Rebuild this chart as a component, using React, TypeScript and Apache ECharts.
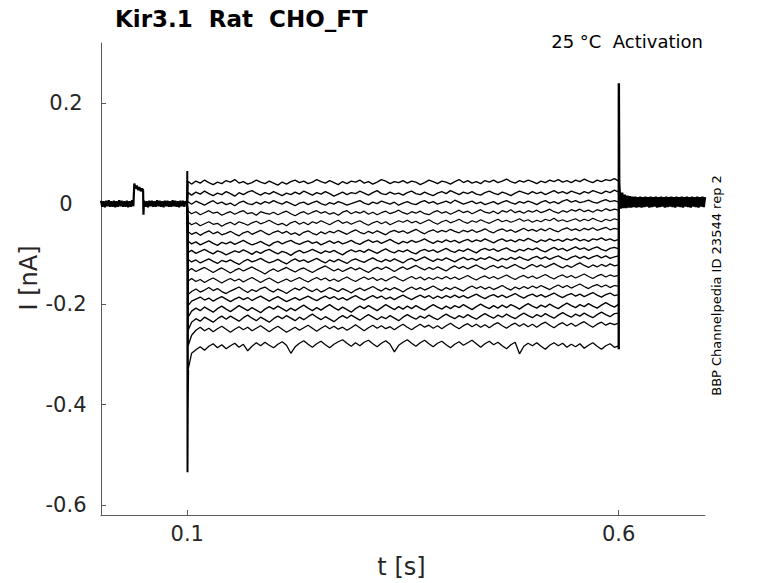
import React, { useEffect, useRef } from "react";
import * as echarts from "echarts";

// time grid of the voltage step (ms)
const tPulseMs = [
  101, 105, 110, 115, 120, 125, 130, 135, 140, 145,
  150, 155, 160, 165, 170, 175, 180, 185, 190, 195,
  200, 205, 210, 215, 220, 225, 230, 235, 240, 245,
  250, 255, 260, 265, 270, 275, 280, 285, 290, 295,
  300, 305, 310, 315, 320, 325, 330, 335, 340, 345,
  350, 355, 360, 365, 370, 375, 380, 385, 390, 395,
  400, 405, 410, 415, 420, 425, 430, 435, 440, 445,
  450, 455, 460, 465, 470, 475, 480, 485, 490, 495,
  500, 505, 510, 515, 520, 525, 530, 535, 540, 545,
  550, 555, 560, 565, 570, 575, 580, 585, 590, 595,
  600,
];

// currents in pA, one array per voltage step
const trace01 = [
  44, 39, 45, 41, 47, 42, 38, 43, 40, 46,
  43, 48, 41, 44, 39, 42, 47, 43, 40, 45,
  41, 37, 43, 39, 44, 47, 42, 45, 40, 43,
  48, 44, 41, 46, 42, 38, 44, 40, 45, 43,
  47, 41, 44, 39, 43, 48, 45, 40, 44, 42,
  46, 41, 45, 43, 38, 42, 47, 44, 40, 45,
  43, 39, 44, 48, 42, 46, 41, 44, 40, 46,
  43, 47, 42, 45, 49, 44, 41, 46, 43, 47,
  44, 40, 45, 42, 47, 44, 48, 43, 46, 42,
  47, 44, 49, 45, 42, 47, 44, 48, 46, 50, 45,
];
const trace02 = [
  22, 17, 23, 19, 25, 20, 16, 21, 18, 24,
  20, 15, 22, 18, 23, 26, 21, 17, 22, 19,
  24, 20, 16, 21, 18, 23, 19, 25, 21, 17,
  22, 19, 24, 20, 15, 19, 23, 18, 22, 20,
  25, 21, 17, 22, 26, 20, 18, 23, 19, 21,
  17, 22, 25, 20, 18, 23, 19, 16, 21, 24,
  20, 26, 22, 18, 23, 20, 24, 19, 17, 22,
  25, 21, 18, 23, 20, 16, 21, 25, 22, 19,
  24, 20, 23, 18, 22, 26, 21, 24, 20, 25,
  22, 19, 24, 21, 26, 23, 20, 25, 22, 27, 23,
];
const trace03 = [
  4, -1, 5, 1, -3, 2, 6, 0, 3, -2,
  1, -4, 2, 5, 0, -2, 3, -1, 4, 1,
  6, 2, -1, 4, 0, -4, 1, 3, -2, 2,
  5, 0, -3, 2, -1, 4, 1, -3, 0, 3,
  6, 1, -2, 3, 0, 5, 2, -1, 3, -3,
  1, 4, 0, -2, 3, 6, 1, 4, -1, 2,
  5, 1, 7, 3, -1, 2, 5, 0, 3, -2,
  1, 4, -1, 3, 6, 2, -1, 4, 1, 5,
  2, -2, 3, 6, 1, 4, 0, 5, 8, 3,
  6, 2, 4, 7, 3, 1, 5, 8, 4, 6, 3,
];
const trace04 = [
  -15, -20, -16, -22, -18, -14, -19, -17, -23, -19,
  -16, -21, -17, -14, -20, -18, -23, -16, -19, -21,
  -17, -22, -18, -15, -20, -24, -19, -16, -21, -17,
  -14, -19, -16, -21, -18, -23, -17, -14, -20, -16,
  -19, -15, -21, -17, -22, -18, -15, -20, -17, -13,
  -18, -21, -16, -19, -15, -20, -22, -17, -14, -19,
  -16, -21, -17, -13, -18, -15, -20, -16, -12, -17,
  -19, -15, -20, -14, -17, -12, -18, -15, -19, -14,
  -17, -13, -18, -15, -11, -16, -19, -14, -17, -12,
  -15, -11, -16, -13, -17, -12, -15, -10, -14, -11, -13,
];
const trace05 = [
  -37, -42, -38, -44, -40, -36, -41, -39, -45, -40,
  -37, -42, -36, -39, -43, -38, -35, -40, -37, -33,
  -38, -42, -39, -44, -38, -35, -41, -37, -42, -36,
  -39, -34, -38, -42, -37, -33, -39, -36, -41, -37,
  -34, -39, -43, -38, -35, -40, -36, -42, -38, -34,
  -37, -33, -38, -35, -40, -36, -32, -37, -41, -36,
  -33, -38, -35, -31, -36, -39, -34, -37, -32, -36,
  -39, -35, -31, -36, -33, -37, -34, -30, -35, -32,
  -37, -33, -36, -31, -34, -29, -35, -32, -36, -33,
  -30, -35, -31, -34, -29, -33, -36, -31, -34, -30, -33,
];
const trace06 = [
  -56, -61, -57, -63, -58, -54, -60, -56, -62, -59,
  -55, -60, -64, -58, -55, -61, -57, -53, -58, -62,
  -57, -54, -59, -55, -61, -58, -63, -57, -54, -59,
  -62, -56, -60, -55, -58, -53, -57, -61, -56, -52,
  -57, -60, -55, -59, -54, -58, -62, -56, -53, -57,
  -54, -59, -55, -51, -56, -60, -55, -52, -57, -53,
  -56, -51, -55, -58, -53, -56, -52, -57, -54, -50,
  -55, -58, -53, -50, -55, -52, -57, -53, -49, -54,
  -51, -55, -50, -54, -49, -53, -56, -51, -48, -53,
  -50, -54, -49, -52, -48, -53, -50, -47, -52, -49, -51,
];
const trace07 = [
  -75, -80, -76, -82, -78, -74, -79, -83, -77, -80,
  -76, -81, -77, -73, -78, -82, -79, -75, -80, -84,
  -78, -75, -80, -76, -73, -78, -81, -77, -74, -79,
  -76, -82, -78, -74, -79, -75, -80, -77, -73, -78,
  -81, -76, -72, -77, -74, -79, -75, -71, -76, -80,
  -75, -78, -73, -77, -74, -70, -75, -79, -74, -77,
  -72, -76, -73, -78, -74, -71, -76, -72, -75, -70,
  -74, -78, -73, -70, -75, -72, -76, -71, -74, -69,
  -73, -77, -72, -75, -70, -74, -71, -75, -70, -73,
  -69, -74, -71, -75, -70, -72, -68, -73, -70, -74, -71,
];
const trace08 = [
  -97, -93, -99, -95, -91, -96, -100, -94, -97, -102,
  -98, -94, -97, -92, -96, -101, -95, -99, -94, -91,
  -96, -100, -95, -98, -103, -97, -93, -98, -95, -91,
  -95, -99, -94, -97, -93, -98, -102, -96, -92, -96,
  -93, -97, -91, -95, -99, -94, -90, -95, -98, -93,
  -96, -92, -97, -100, -94, -91, -95, -92, -97, -93,
  -89, -94, -97, -92, -95, -90, -94, -98, -92, -89,
  -93, -90, -95, -91, -88, -93, -96, -91, -94, -89,
  -92, -88, -93, -96, -91, -87, -92, -89, -94, -90,
  -86, -91, -88, -93, -89, -86, -91, -94, -89, -87, -90,
];
const trace09 = [
  -111, -116, -112, -118, -114, -110, -115, -119, -113, -116,
  -112, -117, -121, -115, -111, -116, -113, -109, -114, -118,
  -115, -111, -116, -120, -114, -110, -115, -112, -117, -113,
  -109, -114, -118, -112, -116, -111, -115, -119, -113, -110,
  -114, -117, -112, -108, -113, -116, -111, -115, -110, -114,
  -118, -112, -109, -114, -110, -106, -111, -115, -110, -113,
  -108, -112, -116, -111, -107, -112, -109, -113, -108, -111,
  -106, -110, -114, -109, -112, -107, -111, -106, -110, -113,
  -108, -105, -110, -106, -111, -107, -104, -109, -112, -107,
  -104, -109, -105, -110, -106, -103, -108, -104, -109, -106, -104,
];
const trace10 = [
  -134, -129, -135, -131, -127, -132, -137, -132, -128, -133,
  -138, -133, -129, -134, -130, -126, -131, -135, -140, -134,
  -130, -135, -131, -127, -132, -136, -131, -128, -133, -137,
  -132, -128, -124, -129, -134, -130, -135, -131, -127, -132,
  -128, -133, -137, -131, -127, -131, -126, -130, -135, -130,
  -126, -131, -127, -123, -128, -132, -127, -131, -126, -130,
  -134, -128, -124, -129, -125, -130, -126, -122, -127, -131,
  -126, -123, -128, -124, -129, -125, -121, -126, -130, -125,
  -121, -126, -122, -127, -123, -119, -124, -128, -123, -127,
  -122, -118, -123, -127, -122, -126, -121, -125, -120, -124, -122,
];
const trace11 = [
  -154, -149, -155, -151, -157, -152, -148, -153, -158, -153,
  -149, -154, -150, -156, -151, -147, -152, -157, -152, -148,
  -153, -158, -154, -150, -155, -151, -147, -152, -156, -151,
  -147, -152, -148, -154, -150, -155, -150, -146, -151, -155,
  -150, -146, -151, -147, -153, -149, -154, -149, -145, -150,
  -154, -149, -145, -150, -146, -152, -147, -151, -146, -150,
  -145, -150, -146, -151, -147, -143, -148, -152, -147, -144,
  -149, -145, -150, -146, -142, -147, -151, -146, -143, -148,
  -144, -149, -145, -141, -146, -150, -145, -142, -147, -143,
  -148, -144, -140, -145, -149, -144, -141, -146, -142, -145, -143,
];
const trace12 = [
  -181, -175, -170, -176, -172, -167, -173, -169, -175, -179,
  -174, -170, -166, -172, -177, -171, -175, -169, -166, -172,
  -176, -170, -174, -179, -173, -168, -172, -166, -171, -175,
  -170, -176, -172, -167, -171, -175, -169, -173, -178, -172,
  -168, -173, -169, -165, -170, -174, -168, -172, -167, -171,
  -176, -170, -166, -171, -167, -172, -168, -164, -169, -173,
  -167, -171, -166, -170, -174, -168, -164, -169, -165, -170,
  -166, -171, -167, -163, -168, -172, -166, -170, -165, -169,
  -164, -168, -163, -167, -171, -166, -162, -167, -163, -168,
  -164, -160, -165, -169, -164, -161, -166, -162, -167, -163, -164,
];
const trace13 = [
  -203, -194, -190, -186, -192, -188, -194, -189, -185, -190,
  -195, -190, -186, -191, -187, -193, -188, -184, -189, -194,
  -189, -185, -190, -195, -191, -187, -192, -188, -184, -189,
  -193, -188, -184, -189, -185, -191, -187, -192, -187, -183,
  -188, -192, -187, -183, -188, -184, -190, -186, -191, -186,
  -182, -187, -191, -186, -182, -187, -183, -189, -184, -188,
  -183, -187, -182, -187, -183, -188, -184, -180, -185, -189,
  -184, -181, -186, -182, -187, -183, -179, -184, -188, -183,
  -180, -185, -181, -186, -182, -178, -183, -187, -182, -179,
  -184, -180, -185, -181, -177, -182, -186, -181, -178, -183, -181,
];
const trace14 = [
  -226, -214, -208, -213, -206, -211, -216, -209, -204, -210,
  -215, -209, -203, -208, -213, -207, -212, -217, -210, -205,
  -210, -204, -209, -214, -208, -213, -207, -202, -208, -213,
  -207, -212, -206, -201, -207, -212, -206, -211, -216, -209,
  -204, -209, -203, -208, -213, -207, -201, -206, -211, -205,
  -210, -204, -209, -203, -208, -212, -206, -201, -206, -210,
  -204, -209, -203, -207, -201, -206, -211, -205, -200, -205,
  -209, -203, -208, -202, -207, -201, -205, -210, -204, -199,
  -204, -208, -202, -206, -200, -205, -209, -203, -198, -203,
  -207, -201, -205, -199, -204, -208, -202, -197, -202, -206, -200,
];
const trace15 = [
  -252, -236, -229, -234, -226, -231, -236, -229, -224, -230,
  -224, -229, -234, -227, -222, -228, -233, -226, -231, -236,
  -229, -224, -229, -223, -228, -233, -226, -231, -225, -220,
  -226, -231, -225, -230, -235, -228, -223, -228, -222, -227,
  -232, -226, -221, -226, -231, -225, -229, -223, -228, -233,
  -226, -221, -226, -230, -224, -228, -222, -227, -231, -225,
  -220, -225, -229, -223, -227, -221, -226, -230, -224, -219,
  -224, -228, -222, -226, -220, -225, -229, -223, -218, -223,
  -227, -221, -225, -219, -224, -228, -222, -217, -222, -226,
  -220, -224, -218, -223, -227, -221, -216, -221, -225, -219, -218,
];
const trace16 = [
  -283, -262, -252, -246, -253, -248, -255, -249, -244, -250,
  -256, -250, -245, -251, -246, -253, -248, -243, -249, -255,
  -249, -244, -250, -256, -251, -246, -252, -247, -242, -248,
  -254, -248, -243, -249, -244, -250, -246, -252, -247, -241,
  -247, -253, -247, -242, -248, -243, -249, -245, -251, -245,
  -240, -246, -251, -245, -240, -246, -242, -248, -243, -249,
  -243, -238, -244, -249, -243, -239, -245, -240, -246, -241,
  -247, -241, -237, -243, -248, -242, -238, -244, -239, -245,
  -240, -246, -240, -236, -242, -247, -241, -237, -243, -238,
  -244, -239, -235, -241, -246, -240, -236, -242, -238, -241, -238,
];
const trace17 = [
  -330, -298, -291, -285, -292, -284, -279, -287, -281, -289,
  -283, -278, -286, -280, -293, -284, -277, -283, -276, -282,
  -287, -280, -275, -282, -298, -285, -278, -273, -280, -286,
  -279, -274, -281, -287, -280, -275, -271, -278, -284, -277,
  -283, -276, -272, -279, -285, -278, -273, -280, -295, -282,
  -276, -271, -278, -284, -277, -272, -279, -285, -278, -274,
  -281, -287, -280, -275, -282, -277, -272, -279, -286, -279,
  -274, -281, -276, -283, -289, -281, -276, -299, -284, -278,
  -283, -277, -284, -290, -282, -277, -283, -278, -286, -280,
  -285, -279, -288, -282, -277, -284, -290, -283, -279, -286, -283,
];

// holding segment before the step (ms, pA)
const preT = [
  0, 1.5, 3, 4.5, 6, 7.5, 9, 10.5, 12, 13.5, 15, 16.5, 18, 19.5, 21, 22.5, 24, 25.5, 27, 28.5,
  30, 31.5, 33, 34.5, 36, 37.5, 38.6, 40, 41.5, 43, 44.5, 46, 47.5, 48.8, 49.2, 49.6, 50,
  51.5, 53, 54.5, 56, 57.5, 59, 60.5, 62, 63.5, 65, 66.5, 68, 69.5, 71, 72.5, 74, 75.5, 77, 78.5,
  80, 81.5, 83, 84.5, 86, 87.5, 89, 90.5, 92, 93.5, 95, 96.5, 98, 99.6,
];
const preI = [
  6, -6, 5, -7, 6, -5, 7, -6, 5, -6, 6, -7, 5, -6, 7, -5, 6, -6, 5, -6,
  6, -7, 5, -6, 7, -5, 40, 30, 36, 27, 33, 25, 30, 27, -22, -4, 6,
  -6, 5, -7, 6, -5, 6, -6, 5, -6, 7, -5, 6, -6, 5, -7, 6, -5, 6, -6,
  5, -6, 7, -5, 6, -6, 5, -7, 6, -5, 6, -6, 5, 0,
];

// capacitive transient at step onset (ms, pA)
const onsetT = [99.6, 100, 100.25, 100.5, 100.8, 101];
const onsetI = [0, 65, -535, -420, -360, -330];

// tail transient and return to holding (ms, pA)
const tailT = [
  600, 600.15, 600.6,
  601, 602.5, 604, 605.5, 607, 608.5, 610, 611.5, 613, 614.5, 616, 617.5, 619, 620.5, 622, 623.5,
  625, 626.5, 628, 629.5, 631, 632.5, 634, 635.5, 637, 638.5, 640, 641.5, 643, 644.5, 646, 647.5,
  649, 650.5, 652, 653.5, 655, 656.5, 658, 659.5, 661, 662.5, 664, 665.5, 667, 668.5, 670, 671.5,
  673, 674.5, 676, 677.5, 679, 680.5, 682, 683.5, 685, 686.5, 688, 689.5, 691, 692.5, 694, 695.5,
  697, 698.5, 700,
];
const tailI = [
  -290, 240, 40,
  28, -10, 22, -9, 18, -9, 16, -8, 15, -8, 14, -7, 14, -8, 13, -7, 14,
  -8, 13, -7, 14, -6, 13, -8, 14, -7, 13, -6, 14, -8, 13, -7, 14,
  -6, 13, -8, 14, -7, 13, -6, 14, -7, 13, -8, 14, -6, 13, -7, 14,
  -8, 13, -6, 14, -7, 13, -8, 14, -6, 13, -7, 14, -8, 13, -6, 14,
  -7, 13, 3,
];

const traces = [
  trace01, trace02, trace03, trace04, trace05, trace06, trace07, trace08, trace09,
  trace10, trace11, trace12, trace13, trace14, trace15, trace16, trace17,
];

const xTicks = [0.1, 0.6];
const yTicks = [-0.6, -0.4, -0.2, 0, 0.2];

const FONT = "DejaVu Sans";
const AXIS = "#5a5a5a";
const TXT = "#262626";

function pts(ts: number[], vs: number[]) {
  const n = Math.min(ts.length, vs.length);
  const out: number[][] = [];
  for (let i = 0; i < n; i++) out.push([ts[i] / 1000, vs[i] / 1000]);
  return out;
}

export default function App() {
  const ref = useRef<HTMLDivElement>(null);
  useEffect(() => {
    if (!ref.current) return;
    const chart = echarts.init(ref.current, null, { renderer: "svg" });
    const base = {
      type: "line",
      symbol: "none",
      silent: true,
      animation: false,
      color: "#000",
    };
    const series: any[] = [];
    series.push({ ...base, data: pts(preT, preI), lineStyle: { color: "#000", width: 2.2 } });
    traces.forEach((tr) => {
      series.push({
        ...base,
        data: [[0.1, 0], ...pts(tPulseMs, tr)],
        lineStyle: { color: "#000", width: 1.3 },
      });
    });
    series.push({ ...base, data: pts(onsetT, onsetI), lineStyle: { color: "#000", width: 2 } });
    series.push({ ...base, data: pts(tailT, tailI), lineStyle: { color: "#000", width: 2.4 } });

    chart.setOption({
      animation: false,
      grid: { left: 101, right: 73, top: 43, bottom: 68, containLabel: false },
      xAxis: {
        type: "value",
        min: 0,
        max: 0.7,
        axisLine: { show: true, onZero: false, lineStyle: { color: AXIS, width: 1 } },
        axisTick: { show: true, inside: true, length: 5, customValues: xTicks, lineStyle: { color: AXIS } },
        axisLabel: {
          customValues: xTicks,
          fontSize: 21,
          fontFamily: FONT,
          color: TXT,
          margin: 8,
          formatter: (v: number) => String(v),
        },
        splitLine: { show: false },
      },
      yAxis: {
        type: "value",
        min: -0.62,
        max: 0.32,
        axisLine: { show: true, lineStyle: { color: AXIS, width: 1 } },
        axisTick: { show: true, inside: true, length: 5, customValues: yTicks, lineStyle: { color: AXIS } },
        axisLabel: {
          customValues: yTicks,
          fontSize: 21,
          fontFamily: FONT,
          color: TXT,
          margin: 35,
          align: "center",
          formatter: (v: number) => (Math.abs(v) < 1e-9 ? "0" : String(v)),
        },
        splitLine: { show: false },
      },
      graphic: [
        {
          type: "text",
          x: 115,
          y: 18.5,
          style: {
            text: "Kir3.1  Rat  CHO_FT",
            font: `bold 23px "${FONT}"`,
            fill: "#000",
            align: "left",
            verticalAlign: "middle",
          },
        },
        {
          type: "text",
          x: 703,
          y: 41,
          style: {
            text: "25 °C  Activation",
            font: `18px "${FONT}"`,
            fill: "#000",
            align: "right",
            verticalAlign: "middle",
          },
        },
        {
          type: "text",
          x: 716,
          y: 285.5,
          rotation: Math.PI / 2,
          style: {
            text: "BBP Channelpedia ID 23544 rep 2",
            font: `13px "${FONT}"`,
            fill: "#000",
            align: "center",
            verticalAlign: "middle",
          },
        },
        {
          type: "text",
          x: 401.5,
          y: 567,
          style: {
            text: "t [s]",
            font: `24px "${FONT}"`,
            fill: TXT,
            align: "center",
            verticalAlign: "middle",
          },
        },
        {
          type: "text",
          x: 28.5,
          y: 278,
          rotation: Math.PI / 2,
          style: {
            text: "I [nA]",
            font: `24px "${FONT}"`,
            fill: TXT,
            align: "center",
            verticalAlign: "middle",
          },
        },
      ],
      series,
    });
    return () => chart.dispose();
  }, []);
  return (
    <div
      ref={ref}
      style={{ position: "fixed", left: 0, top: 0, width: 778, height: 583, background: "#fff" }}
    />
  );
}
